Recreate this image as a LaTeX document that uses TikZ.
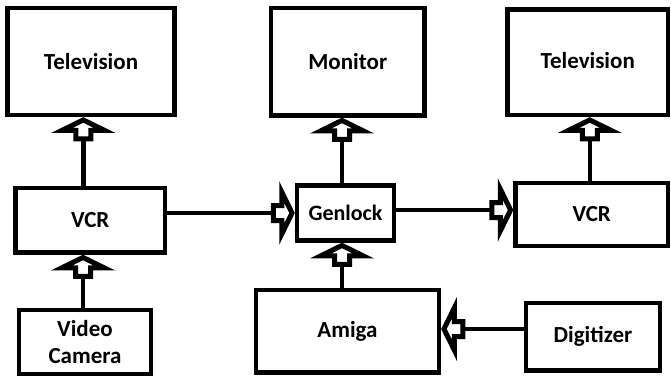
\documentclass[tikz,border=0pt]{standalone}
\usepackage{fontspec}
\setmainfont{Carlito}
\pgfdeclarearrow{
  name = BlockTip,
  setup code = {
    \pgfarrowssettipend{0pt}
    \pgfarrowssetlineend{-18pt}
    \pgfarrowssetvisualbackend{-24pt}
    \pgfarrowssetbackend{-24pt}
    \pgfarrowshullpoint{0pt}{0pt}
    \pgfarrowshullpoint{-13pt}{24pt}
    \pgfarrowshullpoint{-13pt}{-24pt}
    \pgfarrowshullpoint{-24pt}{10pt}
    \pgfarrowshullpoint{-24pt}{-10pt}
  },
  drawing code = {
    \pgfsetlinewidth{5pt}
    \pgfsetmiterjoin
    \pgfpathmoveto{\pgfqpoint{-2.7pt}{0pt}}
    \pgfpathlineto{\pgfqpoint{-13pt}{21pt}}
    \pgfpathlineto{\pgfqpoint{-13pt}{7.5pt}}
    \pgfpathlineto{\pgfqpoint{-21.5pt}{7.5pt}}
    \pgfpathlineto{\pgfqpoint{-21.5pt}{-7.5pt}}
    \pgfpathlineto{\pgfqpoint{-13pt}{-7.5pt}}
    \pgfpathlineto{\pgfqpoint{-13pt}{-21pt}}
    \pgfpathclose
    \pgfsetfillcolor{white}
    \pgfusepathqfillstroke
  },
}
\begin{document}
\begin{tikzpicture}[x=1pt,y=-1pt,
  box/.style={draw=black, line width=4.5pt, fill=white, inner sep=0pt,
    align=center, font=\fontsize{23}{27}\selectfont\bfseries},
  conn/.style={line width=4.5pt, -BlockTip}]
\useasboundingbox (0,0) rectangle (671,377);
\node[box, minimum width=167pt, minimum height=107pt] (tv1) at (91,61.5) {Television};
\node[box, minimum width=153.5pt, minimum height=107.5pt] (mon) at (347.75,61.75) {Monitor};
\node[box, minimum width=160.5pt, minimum height=105.5pt, text depth=3pt] (tv2) at (587.75,62.25) {Television};
\node[box, minimum width=149.5pt, minimum height=64.5pt] (vcr1) at (90.25,220.25) {VCR};
\node[box, minimum width=97pt, minimum height=55pt, font=\fontsize{22}{27}\selectfont\bfseries] (gen) at (345.5,213) {Genlock};
\node[box, minimum width=152.5pt, minimum height=63pt] (vcr2) at (591.75,214.5) {VCR};
\node[box, minimum width=132pt, minimum height=64pt] (cam) at (85,342) {Video\\Camera};
\node[box, minimum width=183pt, minimum height=82.5pt] (amiga) at (347.5,331.25) {Amiga};
\node[box, minimum width=134pt, minimum height=67.5pt] (dig) at (593,336.75) {Digitizer};
\draw[conn] ([xshift=-7pt]vcr1.north) -- ([xshift=-7pt]vcr1.north |- tv1.south);
\draw[conn] ([xshift=-2pt]cam.north) -- ([xshift=-2pt]cam.north |- vcr1.south);
\draw[conn] (vcr1.east |- gen.west) -- (gen.west);
\draw[conn] ([yshift=3pt]gen.east) -- ([yshift=3pt]gen.east -| vcr2.west);
\draw[conn] ([xshift=-3.5pt]gen.north) -- ([xshift=-3.5pt]gen.north |- mon.south);
\draw[conn] ([xshift=-5.5pt]amiga.north) -- ([xshift=-5.5pt]amiga.north |- gen.south);
\draw[conn] ([xshift=-2pt]vcr2.north) -- ([xshift=-2pt]vcr2.north |- tv2.south);
\draw[conn] ([yshift=7.75pt]dig.west) -- ([yshift=7.75pt]dig.west -| amiga.east);
\end{tikzpicture}
\end{document}
